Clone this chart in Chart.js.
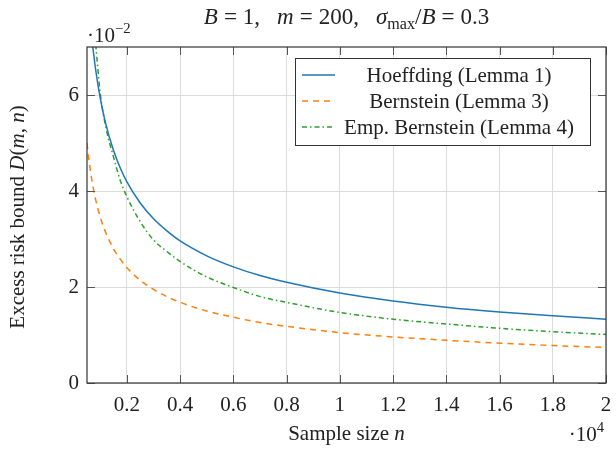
<!DOCTYPE html>
<html>
<head>
<meta charset="utf-8">
<script src="https://cdn.jsdelivr.net/npm/chart.js@4"></script>
<style>
  body { margin: 0; background: #fff; }
  canvas { display: block; }
</style>
</head>
<body>
<canvas id="chart" width="616" height="469"></canvas>
<script>
// sample sizes n
const sampleSizes = [500, 550, 600, 650, 700, 750, 800, 900, 1000, 1200, 1500, 1750, 2000, 2500, 3000, 3500, 4000, 5000, 6000, 7000, 8000, 10000, 12000, 14000, 16000, 18000, 20000];
// bounds D(m, n)
const hoeffding = [0.0839, 0.0800, 0.0765, 0.0735, 0.0709, 0.0685, 0.0663, 0.0625, 0.0593, 0.0541, 0.0484, 0.0448, 0.0419, 0.0375, 0.0342, 0.0317, 0.0296, 0.0265, 0.0242, 0.0224, 0.0210, 0.01875, 0.0171, 0.0158, 0.0148, 0.0140, 0.0133];
const bernstein = [0.0500, 0.0474, 0.0453, 0.0434, 0.0417, 0.0402, 0.0388, 0.0365, 0.0345, 0.0314, 0.0279, 0.0258, 0.0240, 0.0214, 0.0195, 0.0180, 0.0168, 0.0150, 0.0137, 0.0126, 0.0118, 0.0105, 0.0096, 0.0089, 0.0083, 0.0078, 0.0074];
const empBernstein = [0.1070, 0.0990, 0.0920, 0.0860, 0.0810, 0.0765, 0.0725, 0.0660, 0.0602, 0.0535, 0.0470, 0.0422, 0.0388, 0.0336, 0.0298, 0.0274, 0.0253, 0.0221, 0.0199, 0.0180, 0.0168, 0.0147, 0.0133, 0.0123, 0.0114, 0.0107, 0.0101];

const seriesLabels = ['Hoeffding (Lemma 1)', 'Bernstein (Lemma 3)', 'Emp. Bernstein (Lemma 4)'];
const xTickValues = [2000, 4000, 6000, 8000, 10000, 12000, 14000, 16000, 18000, 20000];
const xTickLabels = ['0.2', '0.4', '0.6', '0.8', '1', '1.2', '1.4', '1.6', '1.8', '2'];
const yTickValues = [0, 0.02, 0.04, 0.06];
const yTickLabels = ['0', '2', '4', '6'];

const FONT = '"Liberation Serif", "Times New Roman", serif';
const SIZE = 21;
const TEXT = '#222';

function pts(ys) {
  return sampleSizes.map((n, i) => ({ x: n, y: ys[i] }));
}

// draws a run of text pieces: [text, style(, gap px)], style = 'i' italic, 'sub', 'sup', 'gap' or ''
function drawRich(ctx, parts, x, y, align, size) {
  const fontFor = s => {
    const sz = (s === 'sub' || s === 'sup') ? size * 0.7 : size;
    return (s === 'i' ? 'italic ' : '') + sz + 'px ' + FONT;
  };
  const widthOf = p => {
    if (p[1] === 'gap') return p[2];
    ctx.font = fontFor(p[1]);
    return ctx.measureText(p[0]).width;
  };
  let total = 0;
  parts.forEach(p => { total += widthOf(p); });
  let cx = align === 'center' ? x - total / 2 : align === 'right' ? x - total : x;
  ctx.textAlign = 'left';
  ctx.textBaseline = 'alphabetic';
  parts.forEach(p => {
    const w = widthOf(p);
    if (p[1] !== 'gap') {
      ctx.font = fontFor(p[1]);
      let dy = 0;
      if (p[1] === 'sub') dy = size * 0.22;
      if (p[1] === 'sup') dy = -size * 0.42;
      ctx.fillText(p[0], cx, y + dy);
    }
    cx += w;
  });
}

const decorations = {
  id: 'decorations',
  afterDatasetsDraw(chart) {
    const ctx = chart.ctx;
    const a = chart.chartArea;
    const xs = chart.scales.x, ys = chart.scales.y;
    ctx.save();

    // inward tick marks
    ctx.strokeStyle = '#555';
    ctx.lineWidth = 1;
    ctx.beginPath();
    xTickValues.forEach(v => {
      const px = Math.round(xs.getPixelForValue(v)) + 0.5;
      ctx.moveTo(px, a.bottom); ctx.lineTo(px, a.bottom - 8);
      ctx.moveTo(px, a.top); ctx.lineTo(px, a.top + 8);
    });
    yTickValues.forEach(v => {
      const py = Math.round(ys.getPixelForValue(v)) + 0.5;
      ctx.moveTo(a.left, py); ctx.lineTo(a.left + 8, py);
      ctx.moveTo(a.right, py); ctx.lineTo(a.right - 8, py);
    });
    ctx.stroke();

    // axis box
    ctx.strokeStyle = '#333';
    ctx.lineWidth = 1.2;
    ctx.strokeRect(a.left, a.top, a.right - a.left, a.bottom - a.top);

    // legend
    const lx = 295, ly = 58, lw = 295, lh = 87;
    ctx.fillStyle = '#fff';
    ctx.fillRect(lx, ly, lw, lh);
    ctx.strokeStyle = '#333';
    ctx.lineWidth = 1;
    ctx.strokeRect(lx + 0.5, ly + 0.5, lw, lh);
    chart.data.datasets.forEach((ds, i) => {
      const ry = ly + 17 + i * 26;
      ctx.strokeStyle = ds.borderColor;
      ctx.lineWidth = ds.borderWidth;
      ctx.setLineDash(ds.borderDash || []);
      ctx.beginPath();
      ctx.moveTo(302, ry); ctx.lineTo(335, ry);
      ctx.stroke();
      ctx.setLineDash([]);
      ctx.fillStyle = TEXT;
      ctx.font = SIZE + 'px ' + FONT;
      ctx.textAlign = 'center';
      ctx.textBaseline = 'middle';
      ctx.fillText(ds.label, 459, ry + 1);
    });

    // titles and labels
    ctx.fillStyle = TEXT;
    const mid = (a.left + a.right) / 2;
    drawRich(ctx, [
      ['B', 'i'], ['', 'gap', 6], ['=', ''], ['', 'gap', 6], ['1,', ''], ['', 'gap', 17],
      ['m', 'i'], ['', 'gap', 6], ['=', ''], ['', 'gap', 6], ['200,', ''], ['', 'gap', 17],
      ['σ', 'i'], ['max', 'sub'], ['/', ''], ['B', 'i'], ['', 'gap', 6], ['=', ''], ['', 'gap', 6], ['0.3', '']
    ], mid, 24, 'center', 23);
    drawRich(ctx, [['·10', ''], ['−2', 'sup']], a.left, 42, 'left', SIZE);
    drawRich(ctx, [['Sample size ', ''], ['n', 'i']], mid, 440, 'center', SIZE);
    drawRich(ctx, [['·10', ''], ['4', 'sup']], a.right - 2, 441, 'right', SIZE);
    ctx.translate(24, (a.top + a.bottom) / 2 + 2);
    ctx.rotate(-Math.PI / 2);
    drawRich(ctx, [['Excess risk bound ', ''], ['D', 'i'], ['(', ''], ['m', 'i'], [', ', ''], ['n', 'i'], [')', '']], 0, 0, 'center', SIZE);
    ctx.restore();
  }
};

const ctx = document.getElementById('chart').getContext('2d');

new Chart(ctx, {
  type: 'line',
  data: {
    datasets: [{
      label: seriesLabels[0],
      data: pts(hoeffding),
      borderColor: '#1f77b4',
      borderWidth: 1.5
    }, {
      label: seriesLabels[1],
      data: pts(bernstein),
      borderColor: '#ff7f0e',
      borderWidth: 1.5,
      borderDash: [6, 5]
    }, {
      label: seriesLabels[2],
      data: pts(empBernstein),
      borderColor: '#2ca02c',
      borderWidth: 1.5,
      borderDash: [5, 3, 1.5, 3]
    }]
  },
  options: {
    responsive: false,
    animation: false,
    devicePixelRatio: 1,
    layout: { padding: { left: 0, right: 10, top: 47, bottom: 46 } },
    elements: {
      point: { radius: 0 },
      line: { fill: false, cubicInterpolationMode: 'monotone' }
    },
    plugins: {
      legend: { display: false },
      title: { display: false },
      tooltip: { enabled: false }
    },
    scales: {
      x: {
        type: 'linear',
        min: 500,
        max: 20000,
        afterBuildTicks: s => { s.ticks = xTickValues.map(v => ({ value: v })); },
        afterFit: s => { s.height = 40; s.paddingLeft = 0; s.paddingRight = 0; },
        ticks: {
          callback: (v, i) => xTickLabels[i],
          font: { family: FONT, size: SIZE },
          color: TEXT,
          padding: 10,
          maxRotation: 0,
          autoSkip: false
        },
        grid: { color: '#dcdcdc', drawTicks: false },
        border: { display: false }
      },
      y: {
        min: 0,
        max: 0.07,
        afterBuildTicks: s => { s.ticks = yTickValues.map(v => ({ value: v })); },
        afterFit: s => { s.width = 87; s.paddingTop = 0; s.paddingBottom = 0; },
        ticks: {
          callback: (v, i) => yTickLabels[i],
          font: { family: FONT, size: SIZE },
          color: TEXT,
          padding: 8
        },
        grid: { color: '#dcdcdc', drawTicks: false },
        border: { display: false }
      }
    }
  },
  plugins: [decorations]
});
</script>
</body>
</html>
